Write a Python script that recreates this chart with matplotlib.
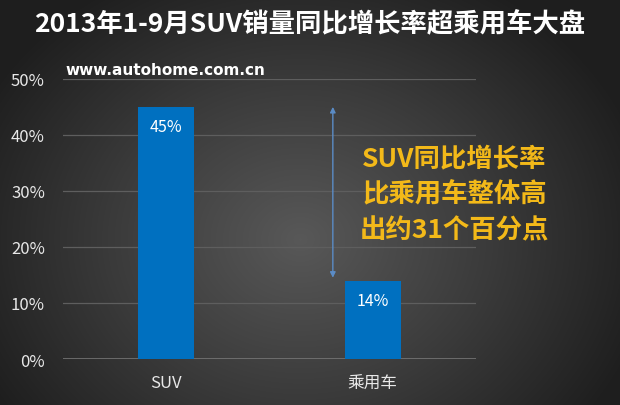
import numpy as np
import matplotlib
matplotlib.use("Agg")
import matplotlib.pyplot as plt
from matplotlib.colors import LinearSegmentedColormap

plt.rcParams['font.family'] = ['Noto Sans CJK SC', 'DejaVu Sans']

categories = ["SUV", "乘用车"]
values = [0.45, 0.14]
value_labels = ["45%", "14%"]
yticks = [0, 0.1, 0.2, 0.3, 0.4, 0.5]
ytick_labels = ["0%", "10%", "20%", "30%", "40%", "50%"]
title = "2013年1-9月SUV销量同比增长率超乘用车大盘"
source = "www.autohome.com.cn"
note = "SUV同比增长率\n比乘用车整体高\n出约31个百分点"

fig = plt.figure(figsize=(6.2, 4.06), dpi=100)

# background radial gradient
bg = fig.add_axes([0, 0, 1, 1], zorder=-10)
h, w = 406, 620
yy, xx = np.mgrid[0:h, 0:w]
cx, cy = 300, 240
r = np.sqrt(((xx - cx) / 360.0) ** 2 + ((yy - cy) / 300.0) ** 2)
r = np.clip(r, 0, 1)
cmap = LinearSegmentedColormap.from_list("bg", ["#585858", "#3c3c3c", "#1e1e1e"])
bg.imshow(r, cmap=cmap, aspect='auto', extent=[0, 1, 0, 1], vmin=0, vmax=1)
bg.set_axis_off()

ax = fig.add_axes([0.1016, 0.1133, 0.666, 0.69])
ax.set_facecolor('none')
x = np.arange(len(categories))
bars = ax.bar(x, values, width=0.27, color='#0070C0', zorder=3)
ax.set_xlim(-0.5, 1.5)
ax.set_ylim(0, 0.5)
ax.set_yticks(yticks)
ax.set_yticklabels(ytick_labels)
ax.set_xticks(x)
ax.set_xticklabels(categories)
for s in ax.spines.values():
    s.set_visible(False)
ax.tick_params(axis='both', length=0, colors='#e8e8e8', labelsize=12)
ax.tick_params(axis='y', pad=13)
ax.tick_params(axis='x', pad=11)
ax.grid(axis='y', color='#5e5e5e', linewidth=0.9, zorder=0)
ax.set_axisbelow(True)
ax.axhline(0, color='#7a7a7a', linewidth=1.8, zorder=2)

for xi, v, lab in zip(x, values, value_labels):
    ax.text(xi, v - 0.02, lab, ha='center', va='top', color='white', fontsize=11.5, zorder=4)

ax.annotate('', xy=(0.807, values[0]), xytext=(0.807, values[1] + 0.005),
            arrowprops=dict(arrowstyle='<|-|>', color='#5b8cc6', lw=1.0,
                            mutation_scale=8, shrinkA=0, shrinkB=0))

fig.text(0.5, 0.938, title, ha='center', va='center', color='white',
         fontsize=19, fontweight='bold')
fig.text(0.105, 0.827, source, ha='left', va='center', color='white',
         fontsize=11, fontweight='bold', family=['DejaVu Sans'])
fig.text(0.733, 0.52, note, ha='center', va='center', color='#F3B919',
         fontsize=19, fontweight='bold', linespacing=1.42)

fig.savefig('out.png', dpi=100)
